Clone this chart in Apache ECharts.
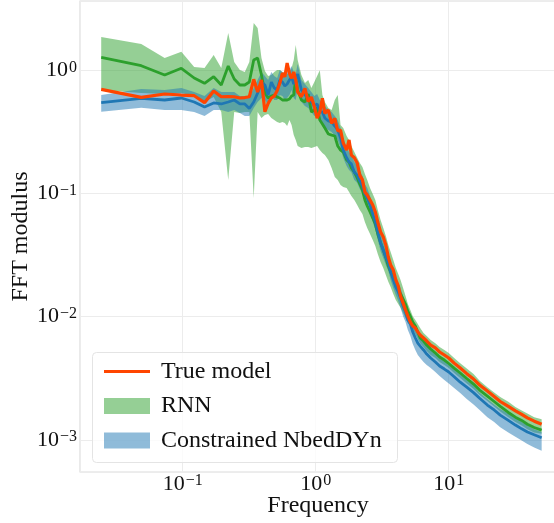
<!DOCTYPE html>
<html>
<head>
<meta charset="utf-8">
<script src="https://cdn.jsdelivr.net/npm/echarts@6/dist/echarts.min.js"></script>
<style>
html,body{margin:0;padding:0;background:#fff;}
#chart{width:554px;height:523px;}
</style>
</head>
<body>
<div id="chart"></div>
<script>
// Frequencies (FFT bins)
const freq = [0.0244,0.0488,0.0732,0.0977,0.122,0.146,0.171,0.195,0.22,0.244,
0.269,0.293,0.317,0.342,0.366,0.391,0.415,0.439,0.464,0.488,
0.513,0.537,0.562,0.586,0.61,0.635,0.659,0.684,0.708,0.732,
0.781,0.83,0.879,0.928,0.977,
1.025,1.074,1.123,1.172,
1.245,1.318,1.392,1.465,1.538,1.611,
1.709,1.782,1.855,1.953,2.051,2.148,2.246,2.344,2.441,
2.563,2.686,2.808,2.93,3.076,3.223,3.369,3.516,3.662,
3.833,4.004,4.175,4.346,4.541,4.736,4.932,5.151,5.371,5.615,5.859,6.104,
6.47,6.836,7.324,7.935,8.545,9.277,10.01,10.99,12.21,
13.67,15.38,17.09,19.53,21.97,24.41,28.08,31.74,35.4,39.06,43.95,50.0];

const trueModel = [0.70,0.603,0.642,0.630,0.622,0.546,0.679,0.610,0.613,0.610,
0.596,0.601,0.610,0.845,0.667,0.834,0.461,0.539,0.596,0.618,
0.683,0.784,0.946,0.887,1.146,0.946,0.861,0.969,0.834,0.667,
0.610,0.714,0.556,0.607,0.507,
0.410,0.459,0.592,0.448,
0.476,0.371,0.408,0.322,0.328,0.257,
0.225,0.272,0.205,0.195,0.177,0.141,0.129,0.103,0.0972,
0.0886,0.0807,0.0708,0.0587,0.0487,0.0443,0.0382,0.0305,0.0263,
0.0239,0.0199,0.0178,0.0147,0.0129,0.01133,0.0101,0.00905,0.0084,0.00809,0.00751,0.0071,
0.00672,0.00635,0.00589,0.00558,0.00517,0.00489,0.00462,0.0042,0.00383,
0.00345,0.00312,0.00279,0.00249,0.00225,0.00205,0.00187,0.00172,0.00161,0.00151,0.00142,0.00134];

const rnnMean = [1.275,1.090,0.916,1.038,0.866,0.784,0.887,0.760,1.084,0.850,
0.760,0.760,0.803,1.212,1.259,0.916,0.654,0.596,0.618,0.630,
0.607,0.596,0.574,0.574,0.574,0.585,0.618,0.630,0.866,0.692,
0.574,0.553,0.642,0.459,0.476,
0.495,0.395,0.367,0.340,
0.304,0.298,0.293,0.243,0.225,0.217,
0.187,0.180,0.161,0.149,0.134,0.119,0.107,0.0886,0.0792,
0.0708,0.0632,0.0565,0.0469,0.0397,0.0348,0.0300,0.0258,0.0230,
0.0210,0.0181,0.01647,0.0153,0.0139,0.01268,0.0111,0.0101,0.00905,0.0084,0.00751,0.00672,
0.00635,0.00589,0.00547,0.00507,0.00471,0.00445,0.00417,0.00383,0.00349,
0.00315,0.00284,0.00254,0.00227,0.00205,0.00187,0.00167,0.00153,0.00144,0.00134,0.00126,0.0012];

const rnnHigh = [1.863,1.635,1.259,1.417,1.064,1.044,1.331,1.044,2.008,1.168,
1.006,0.969,1.168,2.42,2.205,1.259,0.987,0.899,0.916,0.969,
1.006,1.006,0.969,0.916,0.933,0.969,1.044,1.212,1.605,1.212,
0.916,0.789,0.834,0.719,0.803,
0.90,1.0,0.630,0.553,
0.495,0.476,0.574,0.630,0.360,0.340,
0.293,0.272,0.243,0.217,0.195,0.177,0.164,0.144,0.129,
0.111,0.099,0.0886,0.0735,0.0609,0.0524,0.0452,0.0382,0.0335,
0.0289,0.0248,0.0222,0.0199,0.0171,0.0147,0.01268,0.01133,0.0101,0.0094,0.00872,0.00809,
0.00737,0.00697,0.00647,0.0061,0.00567,0.00537,0.00507,0.00462,0.0042,
0.0038,0.00342,0.00302,0.00268,0.00243,0.00223,0.00204,0.00185,0.00173,0.00164,0.00153,0.00147];

const rnnLow = [0.692,0.654,0.642,0.654,0.618,0.553,0.607,0.459,0.1287,0.459,
0.450,0.459,0.459,0.092,0.459,0.410,0.434,0.442,0.410,0.395,
0.381,0.374,0.381,0.374,0.353,0.395,0.360,0.2984,0.272,0.243,
0.234,0.239,0.239,0.234,0.239,
0.243,0.225,0.213,0.205,
0.187,0.161,0.136,0.1287,0.117,0.113,
0.111,0.103,0.0954,0.0886,0.0807,0.0735,0.0682,0.0587,0.0524,
0.0469,0.0419,0.0375,0.0323,0.0278,0.0248,0.0218,0.0192,0.0174,
0.0153,0.01366,0.01268,0.0118,0.0107,0.00976,0.00887,0.0084,0.0078,0.00723,0.0066,0.0061,
0.00567,0.00527,0.00489,0.00462,0.00429,0.00405,0.00383,0.00349,0.00318,
0.00287,0.00259,0.00231,0.00207,0.00187,0.0017,0.00153,0.0014,0.00131,0.00122,0.00115,0.00112];

const cnMean = [0.546,0.592,0.574,0.596,0.553,0.504,0.543,0.533,0.553,0.574,
0.533,0.533,0.49,0.553,0.654,0.803,0.760,0.630,0.803,0.719,
0.692,0.834,0.803,0.746,0.774,0.834,0.883,0.774,0.746,0.933,
0.692,0.630,0.596,0.553,0.513,
0.533,0.459,0.459,0.410,
0.388,0.381,0.353,0.328,0.282,0.225,
0.195,0.180,0.174,0.149,0.141,0.126,0.115,0.099,0.0920,
0.0807,0.0682,0.0587,0.0487,0.0397,0.0348,0.0305,0.0273,0.0230,
0.0199,0.0174,0.0159,0.0142,0.0122,0.0109,0.0094,0.00872,0.00751,0.00672,0.0061,0.00578,
0.00537,0.00498,0.00462,0.00429,0.00398,0.00376,0.00356,0.00326,0.00294,
0.00268,0.00242,0.00218,0.00192,0.00175,0.00159,0.00144,0.00132,0.00123,0.00116,0.0011,0.00104];

const cnHigh = [0.630,0.705,0.692,0.719,0.667,0.618,0.719,0.667,0.667,0.667,
0.618,0.618,0.596,0.719,0.834,0.969,0.899,0.834,0.969,0.899,
0.866,1.006,0.969,0.899,0.969,1.006,1.084,0.969,0.933,1.125,
0.834,0.774,0.719,0.667,0.618,
0.642,0.574,0.553,0.513,
0.476,0.459,0.426,0.395,0.340,0.282,
0.234,0.217,0.205,0.180,0.170,0.152,0.139,0.119,0.111,
0.0954,0.0807,0.0695,0.0576,0.0469,0.0412,0.0361,0.0323,0.0273,
0.0235,0.0207,0.0188,0.0171,0.0147,0.0129,0.01133,0.0105,0.00905,0.0084,0.00751,0.0071,
0.00647,0.00589,0.00537,0.00498,0.00462,0.00437,0.00405,0.00376,0.00342,
0.00306,0.00276,0.00241,0.00215,0.00194,0.00178,0.00164,0.00151,0.0014,0.00131,0.00122,0.00116];

const cnLow = [0.461,0.497,0.476,0.476,0.459,0.426,0.476,0.476,0.459,0.476,
0.450,0.426,0.426,0.495,0.553,0.596,0.574,0.523,0.630,0.574,
0.574,0.630,0.618,0.574,0.596,0.630,0.692,0.596,0.574,0.719,
0.553,0.513,0.495,0.459,0.426,
0.442,0.381,0.381,0.340,
0.328,0.316,0.293,0.272,0.234,0.195,
0.167,0.155,0.149,0.1287,0.122,0.109,0.099,0.0853,0.0792,
0.0695,0.0587,0.0505,0.0419,0.0342,0.0300,0.0263,0.0235,0.0199,
0.0171,0.0150,0.0134,0.0118,0.0101,0.00905,0.0078,0.00697,0.0060,0.00537,0.00489,0.00462,
0.00429,0.00405,0.00383,0.00356,0.0033,0.00306,0.00287,0.00264,0.0024,
0.00215,0.00194,0.00175,0.00153,0.0014,0.00127,0.00115,0.00106,0.00099,0.000927,0.000867,0.000817];

const seriesNames = ['True model', 'RNN', 'Constrained NbedDYn'];
const xAxisTitle = 'Frequency';
const yAxisTitle = 'FFT modulus';

const FONT = '"Liberation Serif", "DejaVu Serif", serif';
const TXT = '#111';

function powLabel(v) {
  const l = Math.log10(v);
  const e = Math.round(l);
  if (Math.abs(l - e) > 1e-6) return '';
  const s = e < 0 ? '\u2212' + (-e) : String(e);
  return '{b|10}{s|' + s + '}';
}
const richLbl = {
  b: {fontFamily: FONT, fontSize: 22, lineHeight: 22, color: TXT},
  s: {fontFamily: FONT, fontSize: 16, lineHeight: 14, verticalAlign: 'top', color: TXT, padding: [0, 0, 0, 1]}
};

function band(name, hi, lo, fill) {
  return {
    type: 'custom', name: name, z: 2,
    itemStyle: {color: fill},
    clip: true, silent: true,
    data: freq.map((f, i) => [f, hi[i], lo[i]]),
    encode: {x: 0, y: [1, 2]},
    renderItem: function (params, api) {
      if (params.dataIndex !== 0) return null;
      const pts = [];
      for (let i = 0; i < freq.length; i++) pts.push(api.coord([freq[i], hi[i]]));
      for (let i = freq.length - 1; i >= 0; i--) pts.push(api.coord([freq[i], lo[i]]));
      return {type: 'polygon', shape: {points: pts}, style: {fill: fill, stroke: null}};
    }
  };
}
function line(name, vals, color, width, z) {
  return {
    type: 'line', name: name, z: z,
    data: freq.map((f, i) => [f, vals[i]]),
    symbol: 'none', showSymbol: false, silent: true,
    lineStyle: {color: color, width: width},
    itemStyle: {color: color}
  };
}

const chart = echarts.init(document.getElementById('chart'), null, {renderer: 'canvas'});
chart.setOption({
  animation: false,
  backgroundColor: '#ffffff',
  grid: {left: 80, right: -2, top: 1, bottom: 51, containLabel: false, outerBoundsMode: 'none',
         show: true, borderColor: '#dcdcdc', borderWidth: 1.2, backgroundColor: 'transparent'},
  xAxis: {
    type: 'log', logBase: 10, min: 0.0169, max: 64.1,
    name: xAxisTitle, nameLocation: 'middle', nameGap: 22, nameMoveOverlap: false,
    nameTextStyle: {fontFamily: FONT, fontSize: 24, color: TXT},
    axisLine: {show: false}, axisTick: {show: false},
    minorTick: {show: false},
    splitLine: {show: true, lineStyle: {color: '#ececec', width: 1}},
    axisLabel: {margin: 1, formatter: powLabel, rich: richLbl, showMinLabel: false, showMaxLabel: false}
  },
  yAxis: {
    type: 'log', logBase: 10, min: 0.000549, max: 3.652,
    name: yAxisTitle, nameLocation: 'middle', nameGap: 47, nameMoveOverlap: false,
    nameTextStyle: {fontFamily: FONT, fontSize: 24, color: TXT},
    axisLine: {show: false}, axisTick: {show: false},
    splitLine: {show: true, lineStyle: {color: '#ececec', width: 1}},
    axisLabel: {margin: 3, formatter: powLabel, rich: richLbl, showMinLabel: false, showMaxLabel: false}
  },
  legend: {
    orient: 'vertical', left: 99, top: 354.5,
    itemWidth: 46, itemHeight: 16, itemGap: 10.5,
    selectedMode: false,
    textStyle: {fontFamily: FONT, fontSize: 24, color: TXT, lineHeight: 24, padding: [0, 0, 0, 6]},
    data: [
      {name: seriesNames[0], icon: 'path://M0,0L0,0ZM0,6.4L46,6.4L46,9.6L0,9.6ZM0,16L0,16Z', itemStyle: {color: '#ff4500'}},
      {name: seriesNames[1], icon: 'rect', itemStyle: {color: 'rgba(44,160,44,0.5)'}},
      {name: seriesNames[2], icon: 'rect', itemStyle: {color: 'rgba(31,119,180,0.5)'}}
    ],
    z: 10
  },
  graphic: [{
    type: 'rect', left: 92, top: 352, z: 8,
    shape: {width: 305, height: 110, r: 4},
    style: {fill: 'rgba(255,255,255,0.8)', stroke: '#e4e4e4', lineWidth: 1}
  }],
  series: [
    band(seriesNames[1], rnnHigh, rnnLow, 'rgba(44,160,44,0.5)'),
    band(seriesNames[2], cnHigh, cnLow, 'rgba(31,119,180,0.5)'),
    line('RNN mean', rnnMean, '#2ca02c', 2.8, 3),
    line('CN mean', cnMean, '#1f77b4', 2.8, 3),
    line(seriesNames[0], trueModel, '#ff4500', 3.2, 4)
  ]
});
</script>
</body>
</html>
